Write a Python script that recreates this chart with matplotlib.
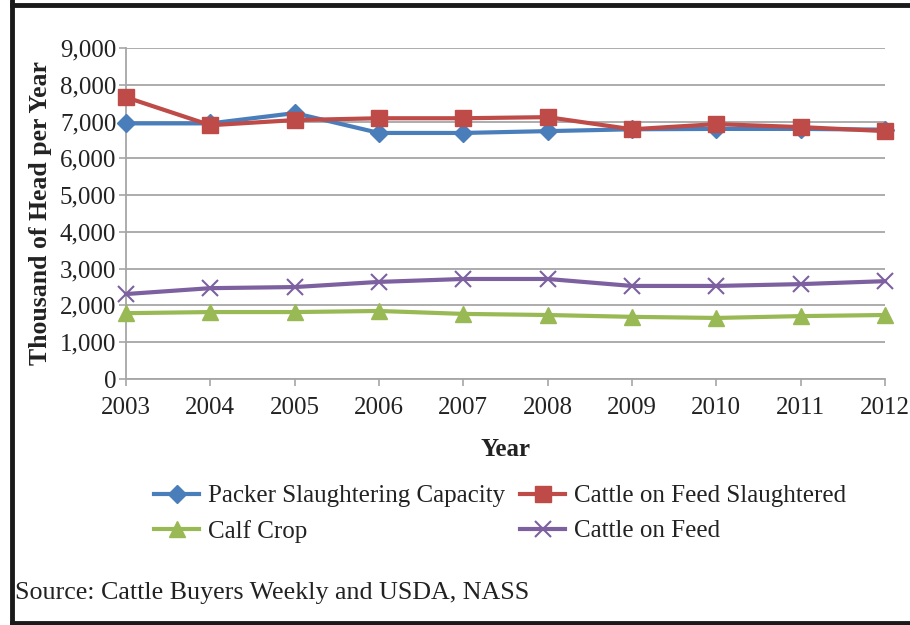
import matplotlib.pyplot as plt
from matplotlib.lines import Line2D
from matplotlib.ticker import FuncFormatter

# years and series (thousand head per year)
years = [2003, 2004, 2005, 2006, 2007, 2008, 2009, 2010, 2011, 2012]
packer_capacity = [6950, 6950, 7230, 6690, 6690, 6740, 6790, 6800, 6800, 6780]
feed_slaughtered = [7660, 6900, 7040, 7090, 7090, 7120, 6790, 6930, 6850, 6740]
calf_crop = [1790, 1820, 1820, 1850, 1770, 1740, 1690, 1660, 1710, 1740]
cattle_on_feed = [2310, 2470, 2500, 2640, 2720, 2720, 2530, 2530, 2580, 2660]

plt.rcParams['font.family'] = ['Liberation Serif', 'DejaVu Serif']

fig = plt.figure(figsize=(9.1, 6.25), dpi=100)
ax = fig.add_axes([0.1385, 0.3936, 0.834, 0.5296])

lw = 3
l1, = ax.plot(years, packer_capacity, color='#4a7ebb', lw=lw, marker='D', ms=9.5,
              label='Packer Slaughtering Capacity', clip_on=False, zorder=3)
l2, = ax.plot(years, feed_slaughtered, color='#be4b48', lw=lw, marker='s', ms=11,
              label='Cattle on Feed Slaughtered', clip_on=False, zorder=3)
l3, = ax.plot(years, calf_crop, color='#98b954', lw=lw, marker='^', ms=11,
              label='Calf Crop', clip_on=False, zorder=3)
l4, = ax.plot(years, cattle_on_feed, color='#7d60a0', lw=lw, marker='x', ms=11,
              mew=1.5, label='Cattle on Feed', clip_on=False, zorder=3)

ax.set_xlim(2003, 2012)
ax.set_ylim(0, 9000)
ax.set_xticks(years)
ax.set_yticks(range(0, 9001, 1000))
ax.yaxis.set_major_formatter(FuncFormatter(lambda v, p: f'{int(v):,}'))
ax.grid(axis='y', color='#a6a6a6', lw=1.3)
ax.set_axisbelow(True)
for s in ['top', 'right']:
    ax.spines[s].set_visible(False)
for s in ['left', 'bottom']:
    ax.spines[s].set_color('#a6a6a6')
    ax.spines[s].set_linewidth(1.3)
ax.tick_params(axis='both', colors='#a6a6a6', labelcolor='#222222',
               labelsize=18, length=5, width=1.2)
ax.tick_params(axis='y', pad=2)
ax.tick_params(axis='x', pad=8)

ax.set_ylabel('Thousand of Head per Year', fontsize=18.5, fontweight='bold',
              color='#222222', labelpad=6)
ax.set_xlabel('Year', fontsize=18, fontweight='bold', color='#222222', labelpad=14)

fig.legend(handles=[l1, l3, l2, l4], loc='center left',
           bbox_to_anchor=(0.145, 0.178), ncol=2, frameon=False,
           fontsize=18, handlelength=1.8, columnspacing=0.6,
           labelspacing=0.5, handletextpad=0.35, labelcolor='#222222')

fig.text(0.017, 0.052, 'Source: Cattle Buyers Weekly and USDA, NASS',
         fontsize=18.7, color='#222222', va='center')

# black frame on left, top and bottom
fig.add_artist(Line2D([0.0135, 0.0135], [0, 1], color='#1a1a1a', lw=3.5))
fig.add_artist(Line2D([0.0135, 1], [0.9928, 0.9928], color='#1a1a1a', lw=3.5))
fig.add_artist(Line2D([0.0135, 1], [0.0025, 0.0025], color='#1a1a1a', lw=3.5))

fig.savefig('out.png', dpi=100)
